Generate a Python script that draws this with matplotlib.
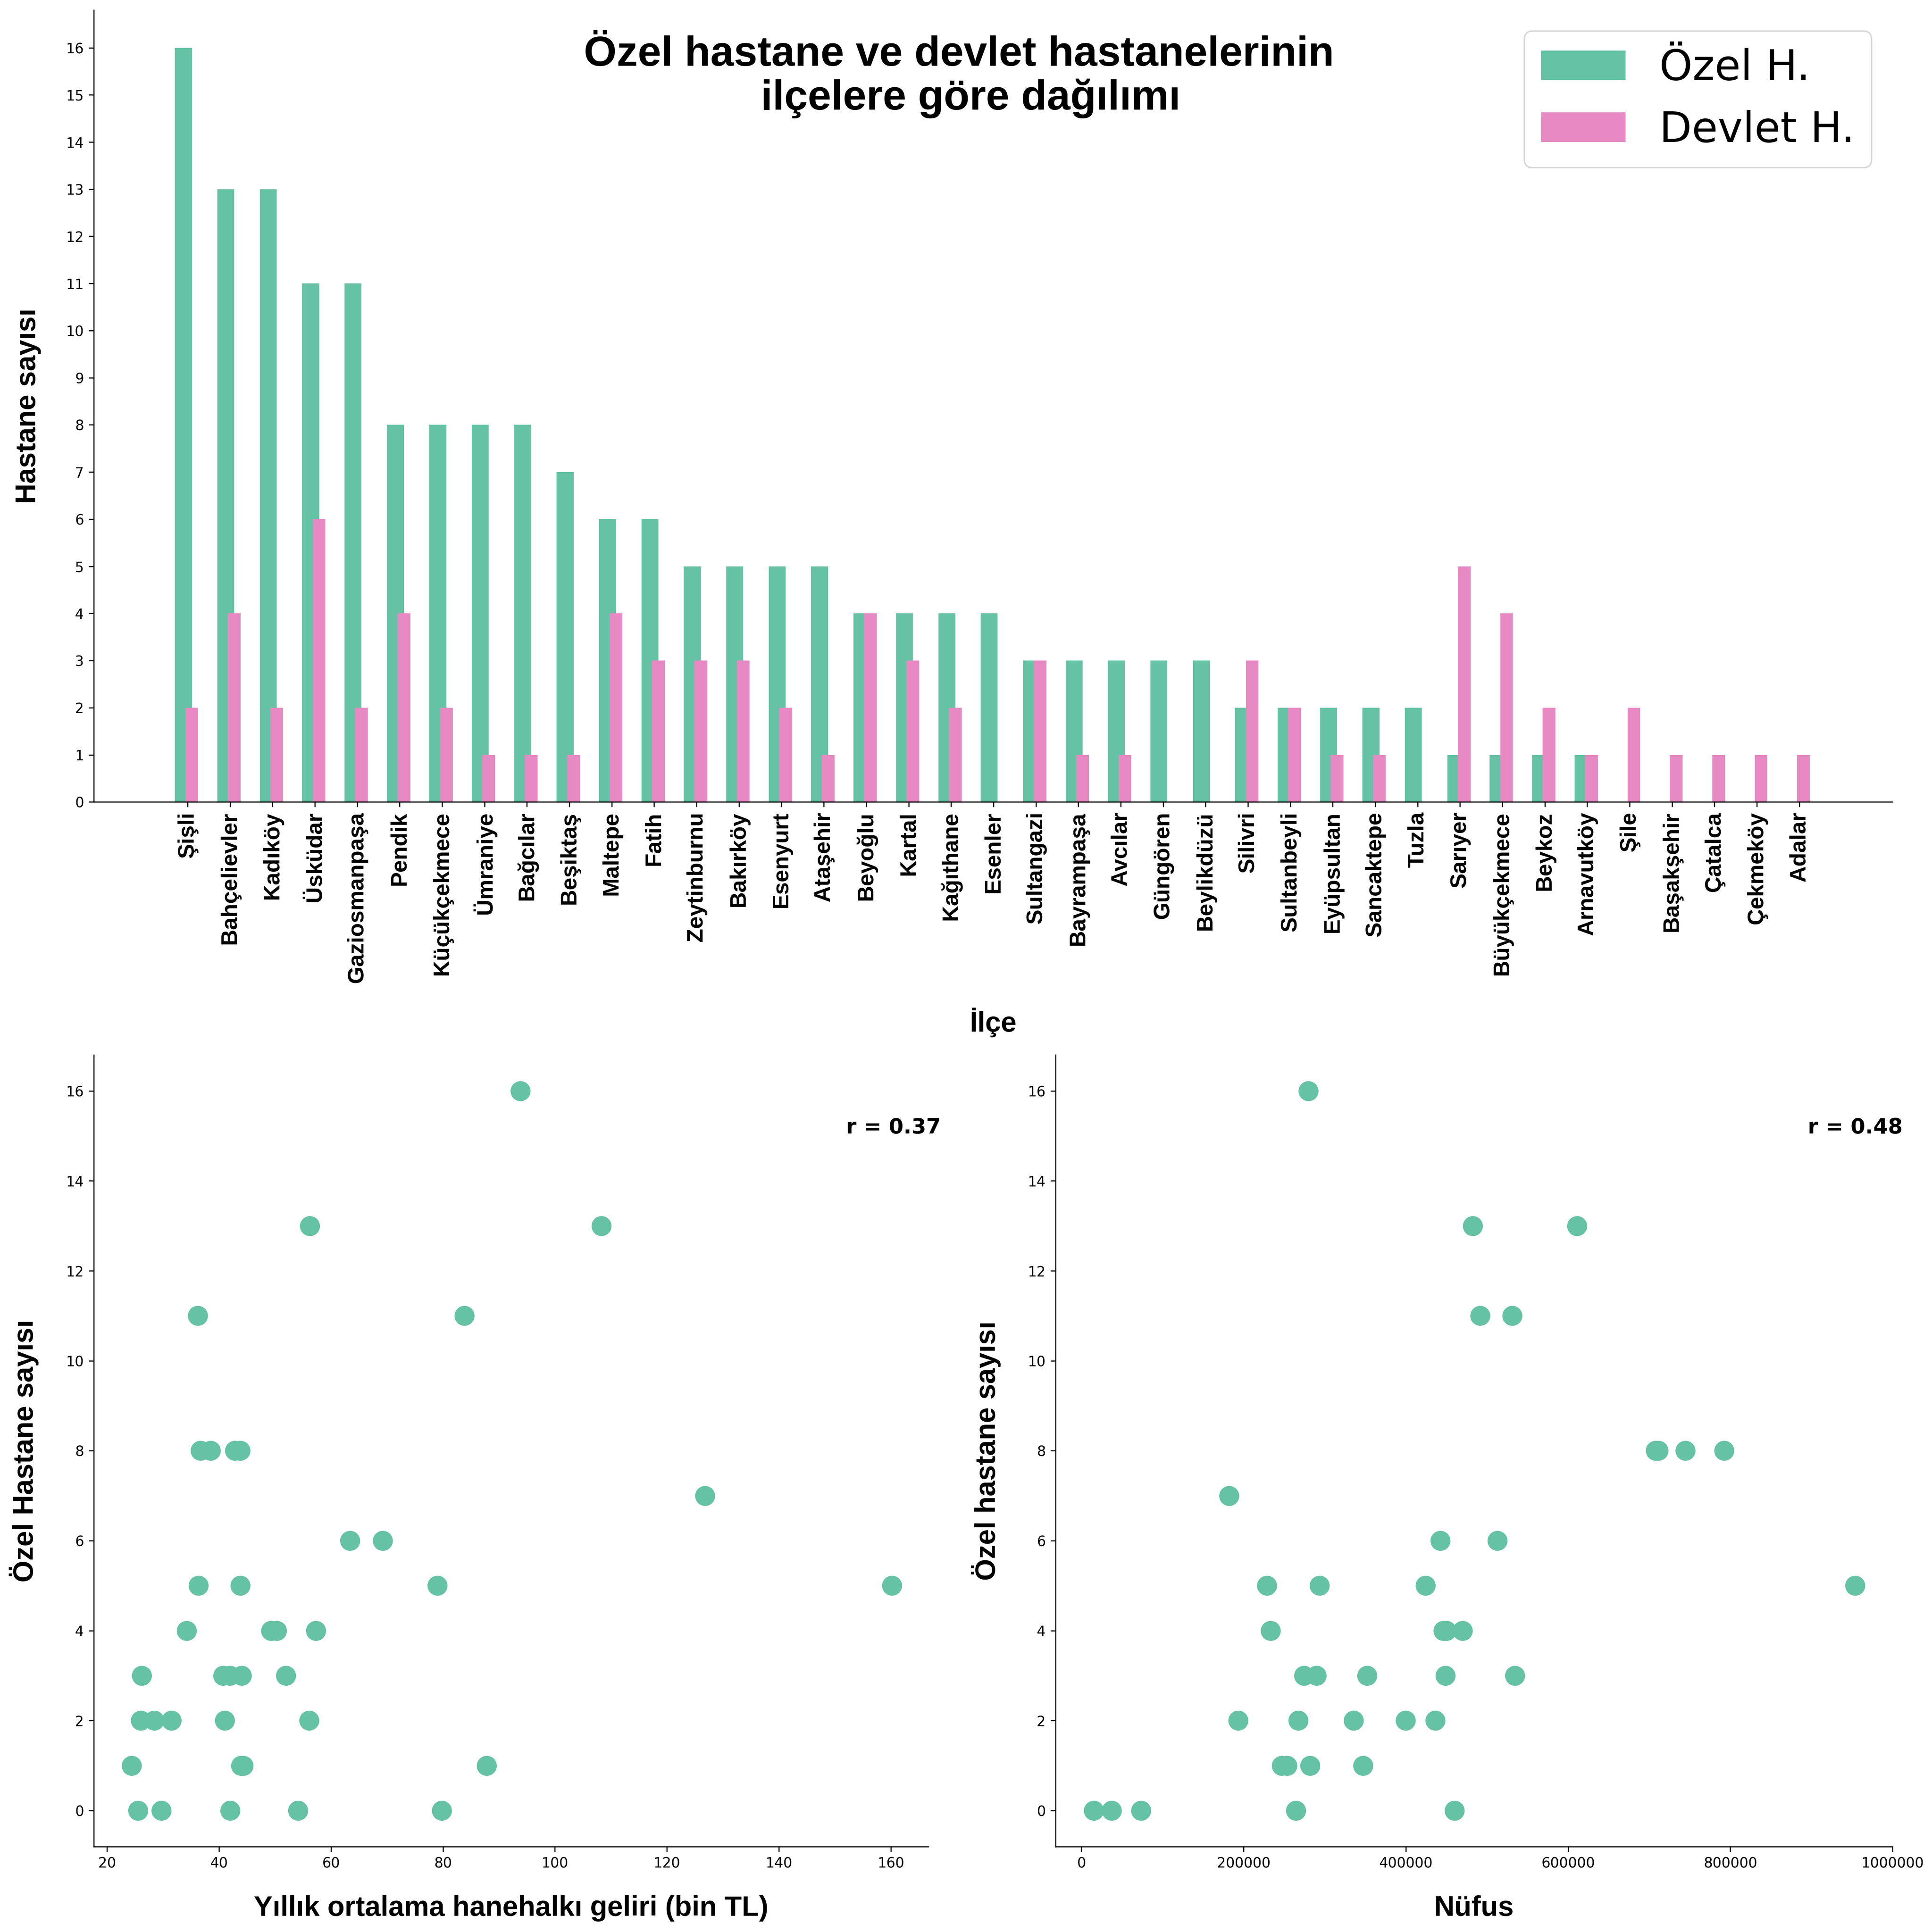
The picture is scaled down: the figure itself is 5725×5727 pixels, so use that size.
# -*- coding: utf-8 -*-

import matplotlib
matplotlib.use('Agg')
import matplotlib.pyplot as plt
import numpy as np

ilce = ['Şişli', 'Bahçelievler', 'Kadıköy', 'Üsküdar', 'Gaziosmanpaşa', 'Pendik',
        'Küçükçekmece', 'Ümraniye', 'Bağcılar', 'Beşiktaş', 'Maltepe', 'Fatih',
        'Zeytinburnu', 'Bakırköy', 'Esenyurt', 'Ataşehir', 'Beyoğlu', 'Kartal',
        'Kağıthane', 'Esenler', 'Sultangazi', 'Bayrampaşa', 'Avcılar', 'Güngören',
        'Beylikdüzü', 'Silivri', 'Sultanbeyli', 'Eyüpsultan', 'Sancaktepe', 'Tuzla',
        'Sarıyer', 'Büyükçekmece', 'Beykoz', 'Arnavutköy', 'Şile', 'Başakşehir',
        'Çatalca', 'Çekmeköy', 'Adalar']

ozel = [16, 13, 13, 11, 11, 8, 8, 8, 8, 7, 6, 6, 5, 5, 5, 5, 4, 4, 4, 4,
        3, 3, 3, 3, 3, 2, 2, 2, 2, 2, 1, 1, 1, 1, 0, 0, 0, 0, 0]
devlet = [2, 4, 2, 6, 2, 4, 2, 1, 1, 1, 4, 3, 3, 3, 2, 1, 4, 3, 2, 0,
          3, 1, 1, 0, 0, 3, 2, 1, 1, 0, 5, 4, 2, 1, 2, 1, 1, 1, 1]

gelir = [93.8, 56.2, 108.3, 83.8, 36.2, 42.8, 38.5, 43.8, 36.7, 126.8, 69.2, 63.4,
         79.0, 160.2, 36.3, 43.8, 50.3, 57.3, 49.3, 34.2,
         26.2, 51.9, 40.7, 44.0, 41.9, 26.0, 28.4, 31.5, 41.0, 56.1,
         87.8, 44.3, 43.9, 24.4, 42.0, 54.1, 25.5, 29.7, 79.8]
nufus = [279700, 611000, 482200, 531100, 491400, 711000, 792500, 708000, 744300, 181900,
         442500, 512800, 228500, 293500, 953800, 424100, 233100, 446000, 470000, 450000,
         534200, 274300, 448600, 289600, 352300, 193300, 335500, 399700, 436400, 267500,
         347000, 253700, 246800, 282000, 15300, 460000, 73400, 37400, 264400]

YESIL = '#66c2a5'
PEMBE = '#e78ac3'
BASLIK = ['Liberation Sans']

fig = plt.figure(figsize=(5725 / 300, 5727 / 300), dpi=300)

ax1 = fig.add_axes([0.0485, 0.5849, 0.9311, 0.4099])
x = np.arange(len(ilce))
ax1.bar(x - 0.1, ozel, width=0.4, color=YESIL, label='Özel H.')
ax1.bar(x + 0.1, devlet, width=0.3, color=PEMBE, label='Devlet H.')
ax1.set_xticks(x)
ax1.set_xticklabels(ilce, rotation=90, fontsize=16, fontweight='bold', family=BASLIK)
ax1.set_yticks(range(0, 17))
ax1.tick_params(axis='y', labelsize=10)
ax1.set_xlim(-2.215, 40.2)
ax1.set_ylim(0, 16.8)
ax1.set_ylabel('Hastane sayısı', fontsize=20, fontweight='bold', family=BASLIK, labelpad=17.5)
ax1.set_xlabel('İlçe', fontsize=20, fontweight='bold', family=BASLIK, labelpad=17.5)
ax1.legend(loc='upper right', fontsize=30)
ax1.text(0.481, 0.968, 'Özel hastane ve devlet hastanelerinin\n  ilçelere göre dağılımı',
         transform=ax1.transAxes, ha='center', va='top', fontsize=30,
         fontweight='bold', family=BASLIK, linespacing=1.13)

ax2 = fig.add_axes([0.0485, 0.0442, 0.4320, 0.4098])
ax2.scatter(gelir, ozel, s=175, color=YESIL)
ax2.set_xlim(17.6, 166.7)
ax2.set_ylim(-0.8, 16.8)
ax2.set_xlabel('Yıllık ortalama hanehalkı geliri (bin TL)', fontsize=20, fontweight='bold',
               family=BASLIK, labelpad=17.5)
ax2.set_ylabel('Özel Hastane sayısı', fontsize=20, fontweight='bold', family=BASLIK, labelpad=19.3)
ax2.text(1.015, 0.908, 'r = 0.37', transform=ax2.transAxes, ha='right', va='center',
         fontsize=15, fontweight='bold')

ax3 = fig.add_axes([0.5463, 0.0442, 0.4333, 0.4098])
ax3.scatter(nufus, ozel, s=175, color=YESIL)
ax3.set_xlim(-32000, 1000000)
ax3.set_ylim(-0.8, 16.8)
ax3.ticklabel_format(style='plain', axis='x')
ax3.set_xlabel('Nüfus', fontsize=20, fontweight='bold', family=BASLIK, labelpad=17.5)
ax3.set_ylabel('Özel hastane sayısı', fontsize=20, fontweight='bold', family=BASLIK, labelpad=19)
ax3.text(1.012, 0.908, 'r = 0.48', transform=ax3.transAxes, ha='right', va='center',
         fontsize=15, fontweight='bold')

for ax in (ax2, ax3):
    ax.set_yticks(range(0, 17, 2))
    ax.tick_params(labelsize=10)
for ax in (ax1, ax2, ax3):
    ax.spines['top'].set_visible(False)
    ax.spines['right'].set_visible(False)

fig.savefig('out.png', dpi=300)
